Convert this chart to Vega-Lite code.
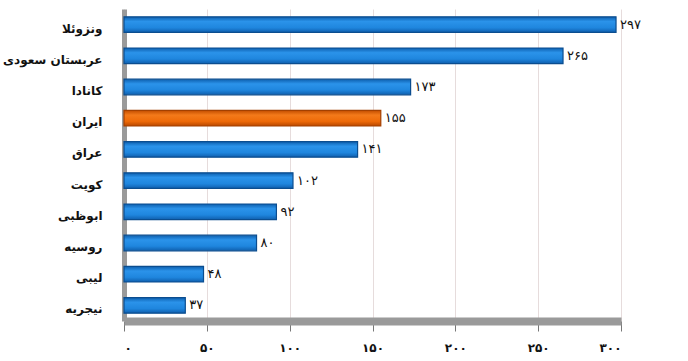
{
  "$schema": "https://vega.github.io/schema/vega-lite/v6.json",
  "width": 497,
  "height": 312,
  "autosize": {"type": "none"},
  "padding": {"left": 124, "top": 9, "right": 67, "bottom": 40},
  "background": "white",
  "config": {
    "view": {"stroke": null},
    "font": "DejaVu Sans"
  },
  "data": {
    "values": [
      {"country": "ونزوئلا", "value": 297, "label": "۲۹۷", "group": "other"},
      {"country": "عربستان سعودی", "value": 265, "label": "۲۶۵", "group": "other"},
      {"country": "کانادا", "value": 173, "label": "۱۷۳", "group": "other"},
      {"country": "ایران", "value": 155, "label": "۱۵۵", "group": "iran"},
      {"country": "عراق", "value": 141, "label": "۱۴۱", "group": "other"},
      {"country": "کویت", "value": 102, "label": "۱۰۲", "group": "other"},
      {"country": "ابوظبی", "value": 92, "label": "۹۲", "group": "other"},
      {"country": "روسیه", "value": 80, "label": "۸۰", "group": "other"},
      {"country": "لیبی", "value": 48, "label": "۴۸", "group": "other"},
      {"country": "نیجریه", "value": 37, "label": "۳۷", "group": "other"}
    ]
  },
  "encoding": {
    "y": {
      "field": "country",
      "type": "nominal",
      "sort": ["ونزوئلا", "عربستان سعودی", "کانادا", "ایران", "عراق", "کویت", "ابوظبی", "روسیه", "لیبی", "نیجریه"],
      "scale": {"paddingInner": 0.5, "paddingOuter": 0.25},
      "axis": {
        "title": null,
        "ticks": false,
        "labelPadding": 22,
        "labelOffset": 4,
        "labelFont": "DejaVu Sans",
        "labelFontWeight": "bold",
        "labelFontSize": 12,
        "labelColor": "#111",
        "domainColor": "#9a9a9a",
        "domainWidth": 5
      }
    },
    "x": {
      "field": "value",
      "type": "quantitative",
      "scale": {"domain": [0, 300], "nice": false},
      "axis": {
        "title": null,
        "values": [0, 50, 100, 150, 200, 250, 300],
        "labelExpr": "replace(replace(replace(replace(replace(replace(replace(datum.label, regexp('0','g'), '۰'), regexp('5','g'), '۵'), regexp('1','g'), '۱'), regexp('2','g'), '۲'), regexp('3','g'), '۳'), regexp('4','g'), '۴'), regexp('6','g'), '۶')",
        "grid": true,
        "gridColor": "#e6dcdc",
        "gridWidth": 1,
        "domainColor": "#9a9a9a",
        "domainWidth": 8,
        "tickColor": "#777",
        "tickSize": 10,
        "labelPadding": 11,
        "labelFont": "DejaVu Sans",
        "labelFontWeight": "bold",
        "labelFontSize": 12,
        "labelColor": "#111"
      }
    }
  },
  "layer": [
    {
      "transform": [{"filter": "datum.group === 'other'"}],
      "mark": {
        "type": "bar",
        "stroke": "#0b4d8f",
        "strokeWidth": 1.2,
        "color": {
          "gradient": "linear",
          "x1": 0, "y1": 0, "x2": 0, "y2": 1,
          "stops": [
            {"offset": 0, "color": "#0d5fae"},
            {"offset": 0.3, "color": "#2b93ea"},
            {"offset": 0.7, "color": "#1f86de"},
            {"offset": 1, "color": "#0f5fae"}
          ]
        }
      }
    },
    {
      "transform": [{"filter": "datum.group === 'iran'"}],
      "mark": {
        "type": "bar",
        "stroke": "#a34000",
        "strokeWidth": 1.2,
        "color": {
          "gradient": "linear",
          "x1": 0, "y1": 0, "x2": 0, "y2": 1,
          "stops": [
            {"offset": 0, "color": "#c24d00"},
            {"offset": 0.3, "color": "#f47a1a"},
            {"offset": 0.7, "color": "#ee6a08"},
            {"offset": 1, "color": "#b84800"}
          ]
        }
      }
    },
    {
      "mark": {
        "type": "text",
        "align": "left",
        "baseline": "middle",
        "dx": 4,
        "font": "DejaVu Sans",
        "fontSize": 13,
        "fontWeight": "normal",
        "color": "#111"
      },
      "encoding": {"text": {"field": "label"}}
    }
  ]
}
